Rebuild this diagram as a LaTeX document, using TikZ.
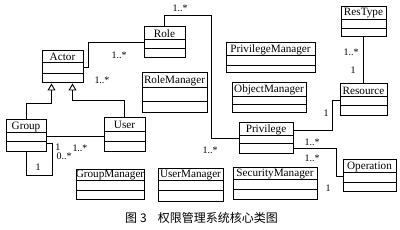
\documentclass[tikz,border=0pt]{standalone}
\usepackage{fontspec}
\setmainfont{Liberation Serif}
\newfontfamily\cjk{Noto Sans CJK SC}
\usetikzlibrary{arrows.meta,calc,fit}
\tikzset{
  classbox/.style={draw, line width=1pt, inner sep=0pt},
  classline/.style={line width=1pt},
  clsname/.style={inner sep=0pt, font=\fontsize{11.2}{12}\selectfont},
  conn/.style={line width=0.9pt},
  gen/.style={line width=0.9pt, -{Triangle[open,width=8pt,length=7pt]}},
  mult/.style={inner sep=0pt, font=\fontsize{10}{11}\selectfont},
}
\newcommand\umlcls[8]{%
  \coordinate (#1-a) at (#2,#3);
  \coordinate (#1-b) at (#4,#5);
  \node[classbox, fit=(#1-a)(#1-b)] (#1) {};
  \draw[classline] (#2,#6) -- (#4,#6) (#2,#7) -- (#4,#7);
  \node[clsname] (#1-t) at ($(#1-a)!0.5!(#4,#6)$) {#8};
}
\begin{document}
\begin{tikzpicture}[x=1pt,y=-1pt]
\useasboundingbox (0,0) rectangle (400,230);
\umlcls{Role}{144}{27}{185}{58}{40}{49}{Role}
\umlcls{Actor}{42}{51}{83}{83}{63}{74}{Actor}
\umlcls{Group}{6}{120}{46}{152}{133}{142}{Group}
\umlcls{User}{104}{118}{145}{152}{132}{142}{User}
\umlcls{RoleManager}{142}{73}{207}{113}{88}{102}{RoleManager}
\umlcls{PrivilegeManager}{226}{43}{315}{73}{56}{66}{PrivilegeManager}
\umlcls{ObjectManager}{232}{83}{306}{113}{97}{105}{ObjectManager}
\umlcls{ResType}{341}{7}{386}{37}{20}{29}{ResType}
\umlcls{Resource}{340}{84}{387}{116}{97}{106}{Resource}
\umlcls{Privilege}{239}{123}{293}{154}{136}{144}{Privilege}
\umlcls{Operation}{343}{160}{396}{192}{173}{183}{Operation}
\umlcls{GroupManager}{76}{170}{144}{200}{181}{191}{GroupManager}
\umlcls{UserManager}{158}{169}{223}{202}{181}{191}{UserManager}
\umlcls{SecurityManager}{233}{168}{317}{200}{180}{190}{SecurityManager}

% generalizations
\coordinate (gl) at ([xshift=10pt]Actor.south west);
\coordinate (gr) at ([xshift=-11pt]Actor.south east);
\draw[gen] (Group.north) |- (gl |- 0,103) -- (gl);
\draw[gen] (User.north) |- (gr |- 0,100) -- (gr);

% associations
\draw[conn] (Actor.east) -- ++(5,0) |- (Role.west);
\draw[conn] (Group.east) -- (Group.east -| User.west);
\draw[conn] (Group.south) |- (52,175) |- (Group.east |- 0,143);
\draw[conn] (Role.north) |- (211,15) |- (Privilege.west);
\draw[conn] (ResType.south) -- (Resource.north);
\draw[conn] ([yshift=8.5pt]Privilege.east) -- ([yshift=8.5pt]Privilege.east -| 332,0) |- (Resource.west);
\draw[conn] ([yshift=-9.5pt]Privilege.east) -- ([yshift=-9.5pt]Privilege.east -| 336,0) |- (Operation.west);

% multiplicities
\node[mult] (m1) at (180,8) {1..*};
\node[mult] (m2) at (119,55) {1..*};
\node[mult] (m3) at (102,80) {1..*};
\node[mult] (m4) at (58,147) {1};
\node[mult] (m5) at (80,148) {1..*};
\node[mult] (m6) at (64,156) {0..*};
\node[mult] (m7) at (38,167) {1};
\node[mult] (m8) at (210,150) {1..*};
\node[mult] (m9) at (351,52) {1..*};
\node[mult] (m10) at (353,70) {1};
\node[mult] (m11) at (326,113) {1};
\node[mult] (m12) at (312,142) {1..*};
\node[mult] (m13) at (312,158) {1..*};
\node[mult] (m14) at (328,188) {1};

% caption
\node[anchor=west, inner sep=0pt, font=\cjk\fontsize{12}{13}\selectfont] (cap) at (125,218) {图\hspace{3pt}3\hspace{11pt}权限管理系统核心类图};
\end{tikzpicture}
\end{document}
